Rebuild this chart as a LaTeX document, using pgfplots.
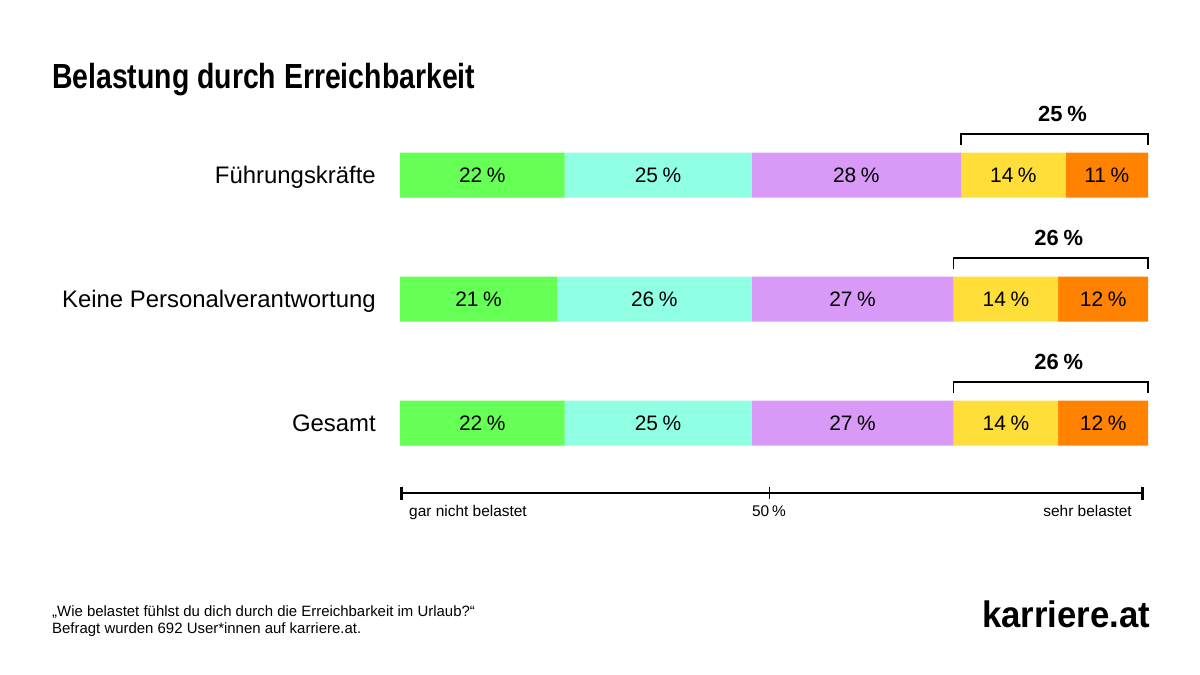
\documentclass[border=0pt]{standalone}
\usepackage{pgfplots}
\pgfplotsset{compat=1.18}
\usepackage{pgfplotstable}
\usepackage{fontspec}
\setmainfont{Liberation Sans}
\usepackage{graphicx}

\definecolor{cGreen}{HTML}{66FF55}
\definecolor{cCyan}{HTML}{91FFE3}
\definecolor{cLila}{HTML}{D99AF7}
\definecolor{cYellow}{HTML}{FFDE3A}
\definecolor{cOrange}{HTML}{FF8300}

% y = minus pixel row of the bar centre
\pgfplotstableread{
y a b c d e
-175 22 25 28 14 11
-299 21 26 27 14 12
-423 22 25 27 14 12
}\data

\begin{document}
\begin{tikzpicture}
\path[use as bounding box, fill=white] (0bp,0bp) rectangle (1200bp,-675bp);
\begin{axis}[
  at={(400bp,-460bp)}, anchor=south west,
  scale only axis, width=748bp, height=320bp,
  xmin=0, xmax=100, ymin=-460, ymax=-140,
  xbar stacked, bar width=45,
  axis line style={draw=none}, tick style={draw=none},
  major tick length=0pt,
  xtick=\empty,
  ytick={-175,-299,-423},
  yticklabels={Führungskräfte,Keine Personalverantwortung,Gesamt},
  yticklabel style={anchor=base east, inner sep=0pt, xshift=-24bp, yshift=-8bp,
    font=\fontsize{24}{28}\selectfont},
  clip=false,
  point meta=explicit,
  /pgf/number format/assume math mode=true,
  nodes near coords={\pgfmathprintnumber{\pgfplotspointmeta}\hspace{0.22em}\%},
  every node near coord/.append style={font=\fontsize{21}{24}\selectfont, text=black},
]
\addplot[fill=cGreen, draw=none] table[x=a, y=y, meta=a] {\data};
\addplot[fill=cCyan, draw=none] table[x=b, y=y, meta=b] {\data};
\addplot[fill=cLila, draw=none] table[x=c, y=y, meta=c] {\data};
\addplot[fill=cYellow, draw=none] table[x=d, y=y, meta=d] {\data};
\addplot[fill=cOrange, draw=none] table[x=e, y=y, meta=e] {\data};

% brackets over the two "belastet" segments
\draw[line width=1.8bp] (axis cs:75,-145) -- (axis cs:75,-134) -- (axis cs:100,-134) -- (axis cs:100,-145);
\node[anchor=base, xshift=8bp, font=\bfseries\fontsize{22}{26}\selectfont] at (axis cs:87.5,-121) {25\hspace{0.22em}\%};
\draw[line width=1.8bp] (axis cs:74,-269) -- (axis cs:74,-258) -- (axis cs:100,-258) -- (axis cs:100,-269);
\node[anchor=base, xshift=8bp, font=\bfseries\fontsize{22}{26}\selectfont] at (axis cs:87,-245) {26\hspace{0.22em}\%};
\draw[line width=1.8bp] (axis cs:74,-393) -- (axis cs:74,-382) -- (axis cs:100,-382) -- (axis cs:100,-393);
\node[anchor=base, xshift=8bp, font=\bfseries\fontsize{22}{26}\selectfont] at (axis cs:87,-369) {26\hspace{0.22em}\%};
\end{axis}

\begin{scope}[x=1bp, y=-1bp]
% title
\node[anchor=base west, inner sep=0pt] at (52,88)
  {\resizebox{423bp}{\height}{\bfseries\fontsize{35}{40}\selectfont Belastung durch Erreichbarkeit}};
% scale
\draw[line width=1.3bp] (400,493) -- (1143,493);
\draw[line width=3bp] (401,487) -- (401,500);
\draw[line width=3bp] (1142,487) -- (1142,500);
\draw[line width=0.9bp] (769,487) -- (769,499);
\node[anchor=base west, inner sep=0pt, font=\fontsize{15.5}{18}\selectfont] at (409,516) {gar nicht belastet};
\node[anchor=base, inner sep=0pt, font=\fontsize{15.5}{18}\selectfont] at (769,516) {50\hspace{0.2em}\%};
\node[anchor=base east, inner sep=0pt, font=\fontsize{15.5}{18}\selectfont] at (1132,516) {sehr belastet};
% footer
\node[anchor=base west, inner sep=0pt, font=\fontsize{15}{18}\selectfont] at (52,616) {„Wie belastet fühlst du dich durch die Erreichbarkeit im Urlaub?“};
\node[anchor=base west, inner sep=0pt, font=\fontsize{15}{18}\selectfont] at (52,633) {Befragt wurden 692 User*innen auf karriere.at.};
% logo
\node[anchor=base west, inner sep=0pt] at (982,627)
  {\resizebox{168bp}{\height}{\bfseries\fontsize{37}{40}\selectfont karriere.at}};
\end{scope}
\end{tikzpicture}
\end{document}
